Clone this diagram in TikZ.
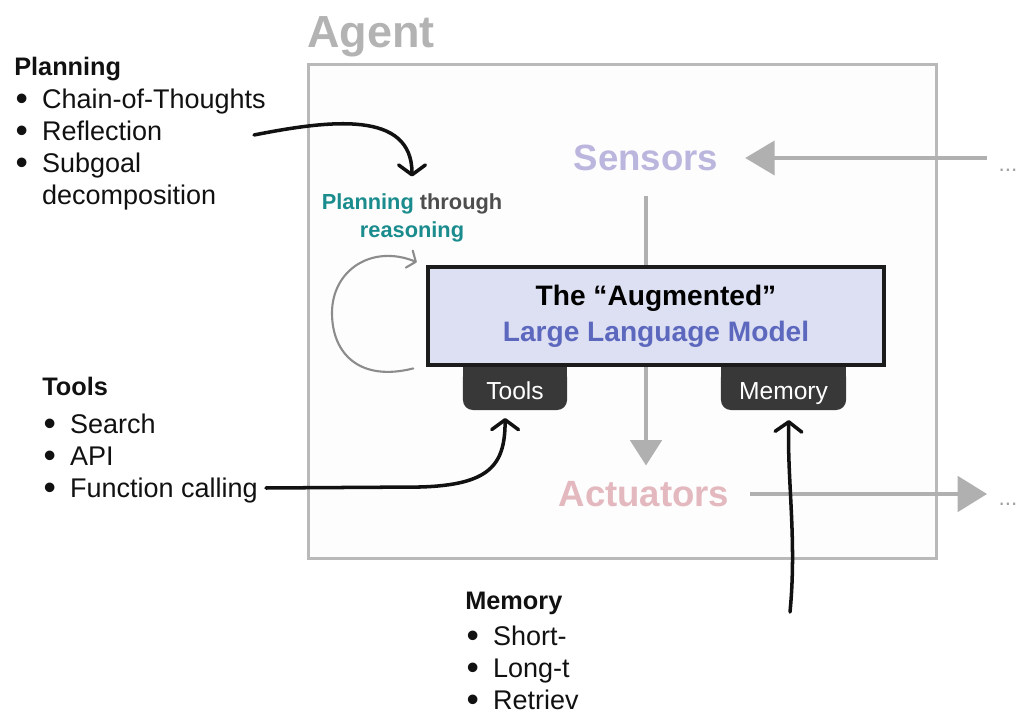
\documentclass[tikz,border=0pt]{standalone}
\usepackage{fontspec}
\setmainfont{Liberation Sans}
\usetikzlibrary{arrows.meta, positioning}

\definecolor{framegray}{HTML}{B9B9B9}
\definecolor{framefill}{HTML}{FDFDFD}
\definecolor{titlegray}{HTML}{B3B3B3}
\definecolor{arrowgray}{HTML}{B0B0B0}
\definecolor{dotgray}{HTML}{A0A0A0}
\definecolor{sensorcol}{HTML}{BAB6DE}
\definecolor{actcol}{HTML}{E3B8BE}
\definecolor{llmfill}{HTML}{DDE0F3}
\definecolor{llmline}{HTML}{1C1C1C}
\definecolor{llmblue}{HTML}{5C68BE}
\definecolor{tabgray}{HTML}{383838}
\definecolor{planteal}{HTML}{1B8C8E}
\definecolor{throughgray}{HTML}{4D4D4D}
\definecolor{loopgray}{HTML}{8C8C8C}
\definecolor{bodyblack}{HTML}{111111}

\newcommand{\bulletdot}{\hspace{1pt}\raisebox{-1.5pt}{\fontsize{25}{22}\selectfont•}}

\begin{document}
\begin{tikzpicture}[
    x=0.025cm, y=-0.025cm,
    every node/.style={inner sep=2pt},
    agentframe/.style={draw=framegray, line width=2.1pt, fill=framefill,
        minimum width=15.7cm, minimum height=12.35cm},
    bigword/.style={font=\bfseries\fontsize{26}{30}\selectfont},
    dotsword/.style={text=dotgray, font=\fontsize{16}{18}\selectfont},
    flowarrow/.style={draw=arrowgray, fill=arrowgray, line width=3.5pt},
    llmbox/.style={draw=llmline, fill=llmfill, line width=2.85pt, align=center,
        minimum width=11.4cm, minimum height=2.45cm,
        font=\bfseries\fontsize{20}{25.6}\selectfont},
    tabbox/.style={fill=tabgray, text=white, rounded corners=7pt,
        text height=19.8pt, text depth=3.7pt,
        minimum height=1.075cm, font=\fontsize{17.5}{21}\selectfont},
    listtext/.style={anchor=base west, text=bodyblack, inner sep=0pt,
        font=\fontsize{19.2}{22.8}\selectfont},
    handarrow/.style={draw=bodyblack, line width=2.5pt, line cap=round,
        -{Straight Barb[length=7pt, width=19pt, round]}},
    looparrow/.style={draw=loopgray, line width=1.5pt, line cap=round,
        -{Straight Barb[length=5pt, width=13pt, round]}}
]

\useasboundingbox (0,0) rectangle (1032,720);

\node[agentframe] (agent) at (622.5,311.5) {};
\node[anchor=base west, text=titlegray, font=\bfseries\fontsize{32}{36}\selectfont]
    (agenttitle) at (304,48) {Agent};

\node[bigword, text=sensorcol] (sensors) at (646,158) {Sensors};
\node[bigword, text=actcol] (actuators) at (644,494) {Actuators};
\node[dotsword] (sensdots) at (1008,170) {...};
\node[dotsword] (actdots) at (1008,504) {...};

\draw[flowarrow, -{Triangle[length=21pt, width=24pt]}, shorten <=6pt, shorten >=17pt]
    (sensdots.west |- sensors.east) -- (sensors.east);
\draw[flowarrow, -{Triangle[length=18pt, width=22pt]}, shorten <=15.5pt, shorten >=9pt]
    (sensors.south) -- (sensors.south |- actuators.north);
\draw[flowarrow, -{Triangle[length=21pt, width=25pt]}, shorten <=12.5pt, shorten >=6pt]
    (actuators.east) -- (actdots.west |- actuators.east);

\node[tabbox, minimum width=2.6cm] (toolstab) at (515,388.5) {Tools};
\node[tabbox, minimum width=3.125cm] (memtab) at (783.5,388.5) {Memory};
\foreach \tabname in {toolstab, memtab}
    \fill[tabgray] (\tabname.north west) rectangle ([yshift=-7pt]\tabname.north east);

\node[llmbox] (llm) at (656,316)
    {The “Augmented”\\\textcolor{llmblue}{Large Language Model}};

\node[align=center, text=throughgray, font=\bfseries\fontsize{15.5}{20}\selectfont]
    (reason) at (412,218) {\textcolor{planteal}{Planning} through\\\textcolor{planteal}{reasoning}};

\draw[looparrow] ([xshift=-9pt, yshift=-1pt]llm.south west)
    .. controls (360,382) and (332,354) .. (332,313)
    .. controls (332,270) and (372,244) .. ([xshift=-6.5pt, yshift=2pt]llm.north west);

\node[listtext] (planlist) at (14,76) {%
    \begin{tabular}[t]{@{}l@{\hspace{10pt}}l@{}}
    \multicolumn{2}{@{}l@{}}{\bfseries\fontsize{18}{22.8}\selectfont Planning}\\
    \bulletdot & Chain-of-Thoughts\\
    \bulletdot & Reflection\\
    \bulletdot & Subgoal\\
     & decomposition
    \end{tabular}};

\node[listtext] (toollist) at (42,396) {%
    \begin{tabular}[t]{@{}l@{\hspace{10pt}}l@{}}
    \multicolumn{2}{@{}l@{}}{\bfseries\fontsize{18}{22.8}\selectfont Tools}\\[4pt]
    \bulletdot & Search\\
    \bulletdot & API\\
    \bulletdot & Function calling
    \end{tabular}};

\node[listtext] (memlist) at (465,609) {%
    \begin{tabular}[t]{@{}l@{\hspace{10pt}}l@{}}
    \multicolumn{2}{@{}l@{}}{\bfseries\fontsize{18}{22.8}\selectfont Memory}\\[3pt]
    \bulletdot & Short-\\
    \bulletdot & Long-t\\
    \bulletdot & Retriev
    \end{tabular}};

\coordinate (planfrom) at (254,135);
\coordinate (toolsfrom) at (266,488);
\coordinate (memfrom) at (790,612);

\draw[handarrow, shorten >=10pt] (planfrom)
    .. controls (330,120) and (412,110) .. (reason.north);
\draw[handarrow, shorten >=5.5pt] (toolsfrom) -- (420,487)
    .. controls (490,485) and (505,465) .. ([xshift=-7pt]toolstab.south);
\draw[handarrow, shorten >=7pt] (memfrom)
    .. controls (797,540) and (787,480) .. ([xshift=4pt]memtab.south);

\end{tikzpicture}
\end{document}
